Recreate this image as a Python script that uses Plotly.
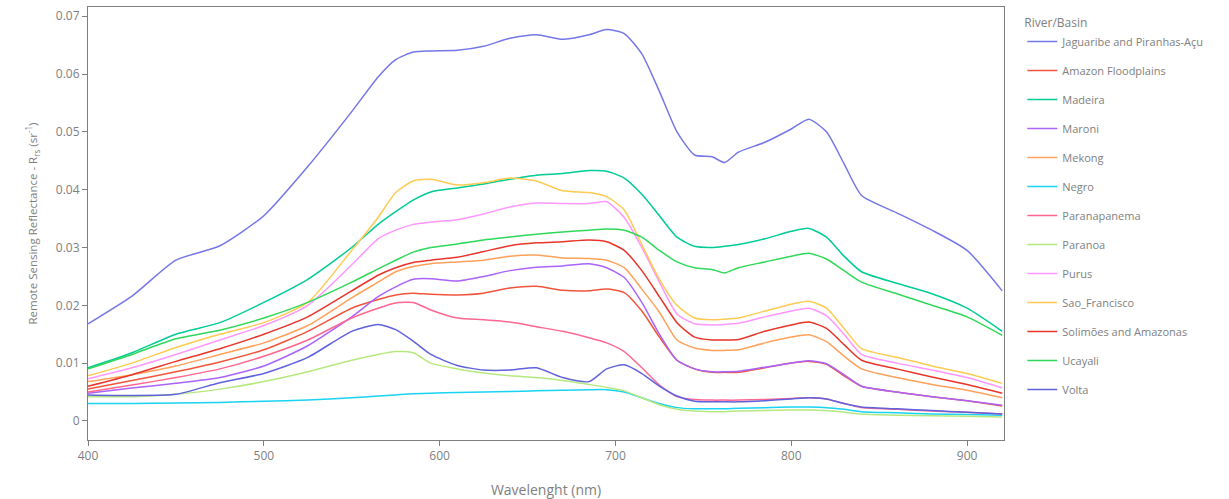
import plotly.graph_objects as go

wavelength = [400, 425, 450, 475, 500, 525, 550, 565, 575, 585, 595, 610, 625, 640, 655, 670, 685, 695,
              705, 715, 725, 735, 745, 755, 762, 770, 785, 800, 810, 820, 830, 840, 860, 880, 900, 920]

jaguaribe = [0.0168, 0.0216, 0.0278, 0.0303, 0.0355, 0.0440, 0.0535, 0.0595, 0.0625, 0.0638, 0.0640, 0.0641,
             0.0648, 0.0662, 0.0668, 0.0660, 0.0668, 0.0677, 0.0670, 0.0635, 0.0570, 0.0500, 0.0460, 0.0457,
             0.0447, 0.0465, 0.0482, 0.0505, 0.0522, 0.0500, 0.0445, 0.0390, 0.0360, 0.0330, 0.0295, 0.0225]
amazon_floodplains = [0.0055, 0.0070, 0.0085, 0.0102, 0.0123, 0.0155, 0.0195, 0.0210, 0.0218, 0.0221, 0.0219,
                      0.0218, 0.0221, 0.0230, 0.0233, 0.0226, 0.0225, 0.0228, 0.0222, 0.0190, 0.0145, 0.0105,
                      0.0090, 0.0084, 0.0084, 0.0084, 0.0092, 0.0100, 0.0103, 0.0098, 0.0078, 0.0060, 0.0050,
                      0.0042, 0.0035, 0.0026]
madeira = [0.0092, 0.0118, 0.0150, 0.0170, 0.0205, 0.0245, 0.0300, 0.0340, 0.0362, 0.0382, 0.0396, 0.0403,
           0.0410, 0.0418, 0.0425, 0.0428, 0.0433, 0.0432, 0.0420, 0.0392, 0.0355, 0.0318, 0.0302, 0.0300,
           0.0302, 0.0305, 0.0315, 0.0328, 0.0333, 0.0318, 0.0285, 0.0258, 0.0238, 0.0220, 0.0195, 0.0155]
maroni = [0.0048, 0.0057, 0.0065, 0.0075, 0.0095, 0.0130, 0.0180, 0.0215, 0.0232, 0.0245, 0.0246, 0.0242,
          0.0250, 0.0260, 0.0266, 0.0268, 0.0272, 0.0265, 0.0248, 0.0205, 0.0150, 0.0105, 0.0090, 0.0085,
          0.0085, 0.0086, 0.0093, 0.0100, 0.0104, 0.0099, 0.0080, 0.0060, 0.0050, 0.0042, 0.0035, 0.0027]
mekong = [0.0068, 0.0080, 0.0095, 0.0115, 0.0135, 0.0165, 0.0213, 0.0240, 0.0258, 0.0267, 0.0272, 0.0275,
          0.0278, 0.0285, 0.0287, 0.0282, 0.0281, 0.0278, 0.0265, 0.0228, 0.0188, 0.0140, 0.0126, 0.0122,
          0.0122, 0.0123, 0.0135, 0.0145, 0.0149, 0.0137, 0.0112, 0.0090, 0.0075, 0.0063, 0.0053, 0.0040]
negro = [0.0030, 0.0030, 0.0031, 0.0032, 0.0034, 0.0036, 0.0040, 0.0043, 0.0045, 0.0047, 0.0048, 0.0049,
         0.0050, 0.0051, 0.0052, 0.0053, 0.0054, 0.0054, 0.0050, 0.0040, 0.0030, 0.0023, 0.0021, 0.0021,
         0.0021, 0.0022, 0.0023, 0.0024, 0.0024, 0.0023, 0.0020, 0.0016, 0.0014, 0.0012, 0.0011, 0.0010]
paranapanema = [0.0050, 0.0062, 0.0075, 0.0090, 0.0112, 0.0140, 0.0178, 0.0195, 0.0204, 0.0205, 0.0192,
                0.0178, 0.0175, 0.0171, 0.0163, 0.0155, 0.0144, 0.0135, 0.0120, 0.0092, 0.0062, 0.0042,
                0.0037, 0.0036, 0.0036, 0.0036, 0.0037, 0.0039, 0.0040, 0.0038, 0.0030, 0.0023, 0.0020,
                0.0017, 0.0015, 0.0012]
paranoa = [0.0042, 0.0042, 0.0046, 0.0055, 0.0068, 0.0085, 0.0105, 0.0115, 0.0120, 0.0118, 0.0100, 0.0090,
           0.0083, 0.0078, 0.0075, 0.0070, 0.0063, 0.0058, 0.0052, 0.0040, 0.0028, 0.0020, 0.0017, 0.0016,
           0.0016, 0.0017, 0.0018, 0.0019, 0.0019, 0.0018, 0.0015, 0.0012, 0.0010, 0.0009, 0.0008, 0.0007]
purus = [0.0073, 0.0092, 0.0115, 0.0140, 0.0165, 0.0200, 0.0270, 0.0315, 0.0330, 0.0340, 0.0344, 0.0348,
         0.0358, 0.0370, 0.0377, 0.0376, 0.0376, 0.0379, 0.0352, 0.0300, 0.0240, 0.0185, 0.0168, 0.0166,
         0.0167, 0.0169, 0.0180, 0.0190, 0.0195, 0.0182, 0.0150, 0.0115, 0.0100, 0.0088, 0.0075, 0.0057]
sao_francisco = [0.0078, 0.0100, 0.0127, 0.0150, 0.0170, 0.0205, 0.0295, 0.0352, 0.0395, 0.0415, 0.0418,
                 0.0408, 0.0412, 0.0420, 0.0415, 0.0398, 0.0395, 0.0388, 0.0365, 0.0305, 0.0245, 0.0200,
                 0.0178, 0.0175, 0.0176, 0.0178, 0.0190, 0.0202, 0.0207, 0.0195, 0.0160, 0.0125, 0.0110,
                 0.0095, 0.0082, 0.0065]
solimoes = [0.0060, 0.0080, 0.0103, 0.0125, 0.0150, 0.0180, 0.0225, 0.0252, 0.0265, 0.0274, 0.0278, 0.0283,
            0.0293, 0.0303, 0.0308, 0.0310, 0.0313, 0.0310, 0.0295, 0.0260, 0.0215, 0.0170, 0.0145, 0.0140,
            0.0140, 0.0141, 0.0155, 0.0166, 0.0171, 0.0160, 0.0132, 0.0105, 0.0090, 0.0076, 0.0063, 0.0048]
ucayali = [0.0090, 0.0115, 0.0142, 0.0157, 0.0178, 0.0205, 0.0240, 0.0263, 0.0278, 0.0292, 0.0300, 0.0306,
           0.0313, 0.0318, 0.0323, 0.0327, 0.0330, 0.0332, 0.0330, 0.0318, 0.0295, 0.0275, 0.0265, 0.0262,
           0.0256, 0.0265, 0.0275, 0.0285, 0.0290, 0.0280, 0.0260, 0.0240, 0.0220, 0.0200, 0.0180, 0.0148]
volta = [0.0045, 0.0044, 0.0046, 0.0066, 0.0082, 0.0110, 0.0155, 0.0167, 0.0158, 0.0138, 0.0115, 0.0096,
         0.0088, 0.0088, 0.0092, 0.0075, 0.0068, 0.0090, 0.0097, 0.0082, 0.0060, 0.0043, 0.0034, 0.0033,
         0.0033, 0.0033, 0.0035, 0.0038, 0.0040, 0.0038, 0.0030, 0.0024, 0.0021, 0.0018, 0.0015, 0.0012]

names = ["Jaguaribe and Piranhas-Açu", "Amazon Floodplains", "Madeira", "Maroni", "Mekong", "Negro",
         "Paranapanema", "Paranoa", "Purus", "Sao_Francisco", "Solimões and Amazonas", "Ucayali", "Volta"]
series = [jaguaribe, amazon_floodplains, madeira, maroni, mekong, negro, paranapanema, paranoa, purus,
          sao_francisco, solimoes, ucayali, volta]
colors = ["#7477e6", "#EF553B", "#00cc96", "#ab63fa", "#FFA15A", "#19d3f3", "#FF6692", "#B6E880",
          "#FF97FF", "#FECB52", "#e8352a", "#2fd85a", "#5f62dc"]

fig = go.Figure()
for name, vals, col in zip(names, series, colors):
    fig.add_trace(go.Scatter(x=wavelength, y=vals, mode="lines", name=name, legendgroup=name,
                             line=dict(color=col, width=1.5, shape="spline", smoothing=0.6)))

axis_common = dict(showline=True, linecolor="#7f7f7f", linewidth=1, mirror=True, ticks="outside",
                   ticklen=5, tickcolor="#7f7f7f", showgrid=False, zeroline=False, automargin=False,
                   tickfont=dict(size=12, color="#808080"))

fig.update_layout(
    width=1229, height=499,
    margin=dict(l=88, r=225, t=7, b=59, autoexpand=False),
    plot_bgcolor="white", paper_bgcolor="white",
    font=dict(family="Open Sans", size=12, color="#808080"),
    legend=dict(title=dict(text="River/Basin", font=dict(size=12)), traceorder="grouped", tracegroupgap=10,
                x=1.02, y=0.99, font=dict(size=11, color="#808080")),
    xaxis=dict(title=dict(text="Wavelenght (nm)", standoff=22), range=[400, 921],
               tickvals=[400, 500, 600, 700, 800, 900], **axis_common),
    yaxis=dict(title=dict(text="Remote Sensing Reflectance - R<sub>rs</sub> (sr<sup>-1</sup>)", font=dict(size=11.5)),
               range=[-0.0033, 0.0716], dtick=0.01, **axis_common),
)

fig.write_html("out.html")
